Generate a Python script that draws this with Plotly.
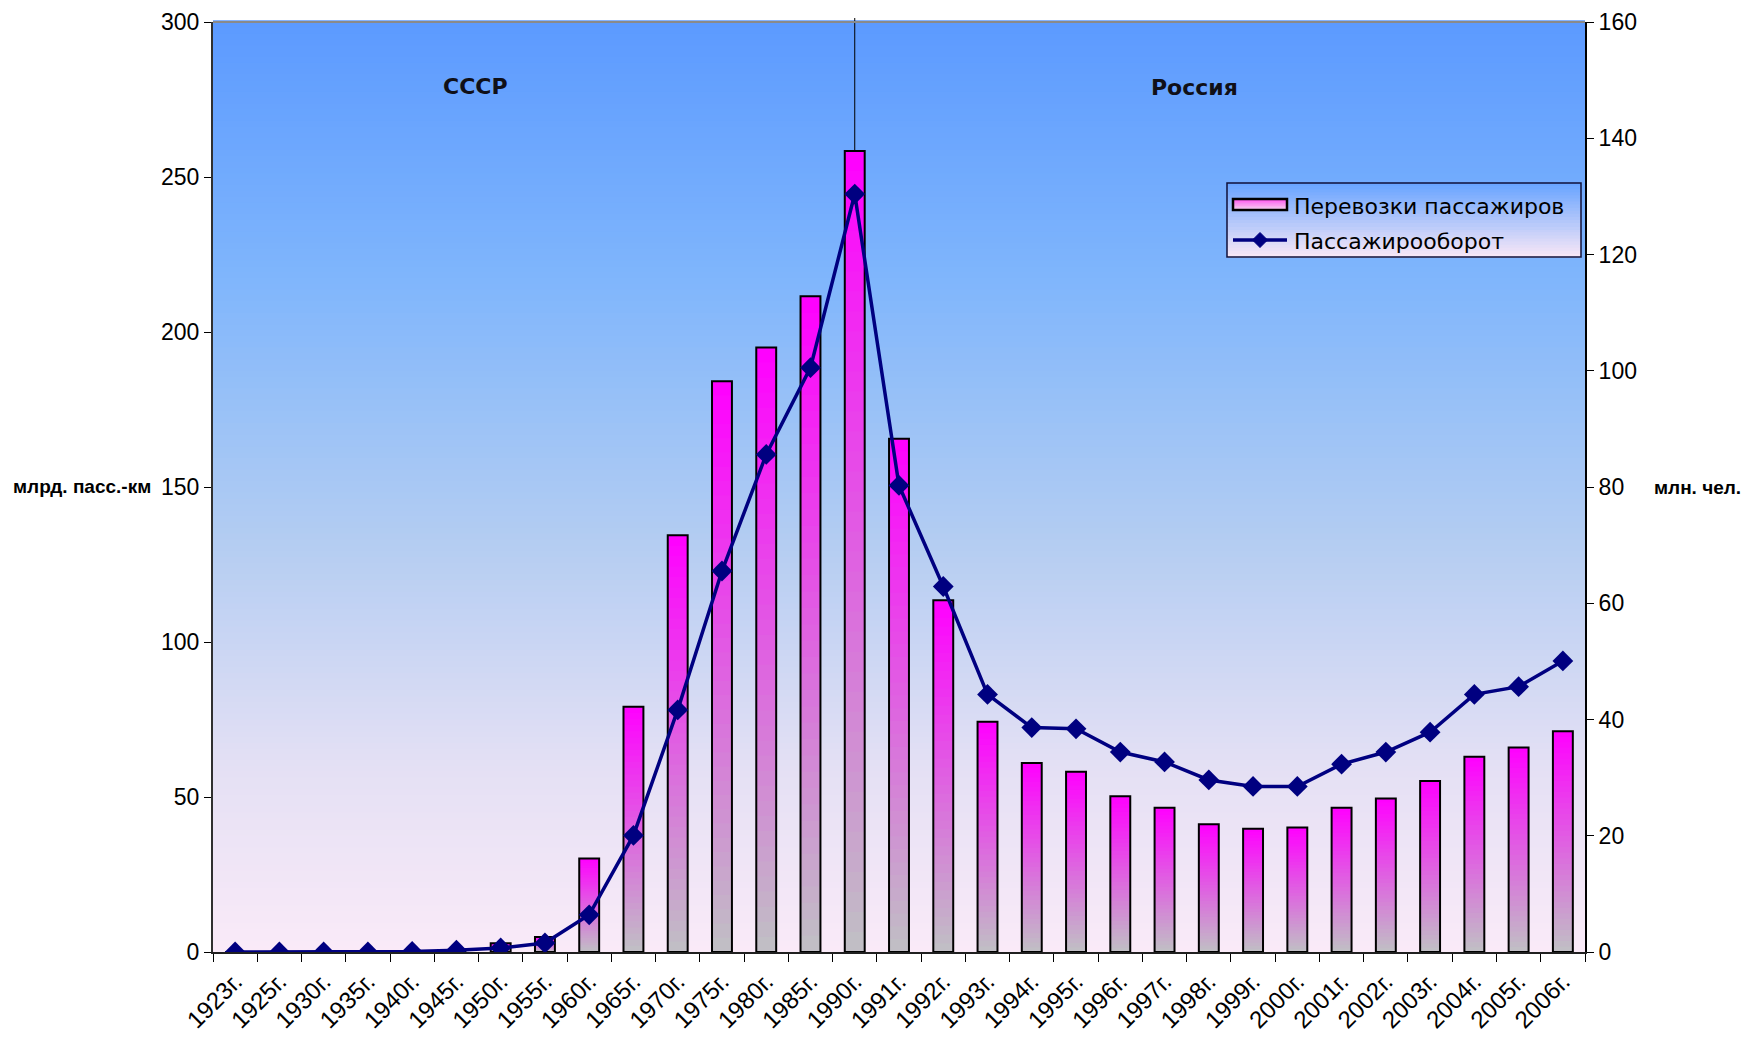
import plotly.graph_objects as go

# --- data -------------------------------------------------------------------
years = ["1923г.", "1925г.", "1930г.", "1935г.", "1940г.", "1945г.", "1950г.",
         "1955г.", "1960г.", "1965г.", "1970г.", "1975г.", "1980г.", "1985г.",
         "1990г.", "1991г.", "1992г.", "1993г.", "1994г.", "1995г.", "1996г.",
         "1997г.", "1998г.", "1999г.", "2000г.", "2001г.", "2002г.", "2003г.",
         "2004г.", "2005г.", "2006г."]

# Перевозки пассажиров, млн. чел. (bars, right scale)
passengers_mln = [0, 0, 0, 0, 0, 0, 1.5, 2.6, 16.1, 42.2, 71.7, 98.2, 104.0,
                  112.8, 137.8, 88.3, 60.5, 39.6, 32.5, 31.0, 26.8, 24.8, 22.0,
                  21.2, 21.4, 24.8, 26.4, 29.4, 33.6, 35.2, 38.0]

# Пассажирооборот, млрд. пасс.-км (line, left scale)
turnover_bn_pkm = [0, 0, 0, 0, 0.2, 0.6, 1.3, 2.9, 12.0, 37.6, 78.1, 122.9,
                   160.5, 188.5, 244.5, 150.5, 117.9, 83.1, 72.4, 72.0, 64.5,
                   61.3, 55.5, 53.4, 53.4, 60.6, 64.5, 70.9, 83.1, 85.6, 93.9]

left_ticks = [0, 50, 100, 150, 200, 250, 300]
right_ticks = [0, 20, 40, 60, 80, 100, 120, 140, 160]

# --- geometry of the page ---------------------------------------------------
W, H = 1742, 1040
PL, PR, PT, PB = 213, 1585, 22, 952          # plot area in pixels


def px(x):
    return (x - PL) / (PR - PL)


def py(y):
    return (PB - y) / (PB - PT)


def mix(c1, c2, t):
    return "rgb(%d,%d,%d)" % tuple(round(a + (b - a) * t) for a, b in zip(c1, c2))


def ramp(stops, t):
    """Piecewise-linear colour ramp; stops are (position, rgb) sorted by position."""
    for (p0, c0), (p1, c1) in zip(stops, stops[1:]):
        if t <= p1:
            return mix(c0, c1, (t - p0) / (p1 - p0))
    return mix(stops[-1][1], stops[-1][1], 0)


# background colour from bottom (0) to top (1)
BG_STOPS = [(0.0, (250, 234, 248)), (0.2, (228, 224, 244)), (0.45, (178, 204, 242)),
            (0.72, (128, 182, 252)), (1.0, (92, 154, 255))]
BAR_TOP = (255, 0, 255)
BAR_BOTTOM = (192, 192, 196)
NAVY = "#000080"

fig = go.Figure()
shapes = []

# plot-area background: vertical blue-to-pink gradient
n_bg = 160
for i in range(n_bg):
    t = (i + 0.5) / n_bg
    shapes.append(dict(type="rect", xref="paper", yref="paper",
                       x0=0, x1=1, y0=i / n_bg, y1=(i + 1) / n_bg + 0.002,
                       fillcolor=ramp(BG_STOPS, t), line=dict(width=0),
                       layer="below"))

# divider between the СССР and Россия periods
shapes.append(dict(type="line", xref="x", yref="paper", x0="1990г.", x1="1990г.",
                   y0=0, y1=1 + 4 / (PB - PT), line=dict(color="#000000", width=1),
                   layer="below"))
# top border of the plot area
shapes.append(dict(type="line", xref="paper", yref="paper", x0=0, x1=1, y0=1, y1=1,
                   line=dict(color="#8a8a8a", width=2), layer="below"))

# --- bars with a vertical gradient (stacked overlays, tallest first) --------
BAR_W = 0.45
N = 40
for k in range(N, 0, -1):
    frac = k / N
    t = (k - 0.5) / N
    fig.add_trace(go.Bar(
        x=years, y=[v * frac for v in passengers_mln], yaxis="y",
        width=BAR_W, marker=dict(color=mix(BAR_BOTTOM, BAR_TOP, t), line=dict(width=0)),
        hoverinfo="skip", showlegend=False))

fig.add_trace(go.Bar(
    x=years, y=passengers_mln, yaxis="y", width=BAR_W,
    name="Перевозки пассажиров",
    marker=dict(color="rgba(0,0,0,0)", line=dict(color="#000000", width=2)),
    showlegend=False))

# --- line -------------------------------------------------------------------
fig.add_trace(go.Scatter(
    x=years, y=turnover_bn_pkm, yaxis="y2", name="Пассажирооборот",
    mode="lines+markers", line=dict(color=NAVY, width=3.5),
    marker=dict(symbol="diamond", size=16, color=NAVY),
    showlegend=False))

# --- hand-drawn legend ------------------------------------------------------
LX0, LX1, LY0, LY1 = 1227, 1581, 183, 257
n_lg = 24
for i in range(n_lg):
    t = i / (n_lg - 1)
    ya = LY0 + (LY1 - LY0) * i / n_lg
    yb = LY0 + (LY1 - LY0) * (i + 1) / n_lg + 0.6
    shapes.append(dict(type="rect", xref="paper", yref="paper",
                       x0=px(LX0), x1=px(LX1), y0=py(yb), y1=py(ya),
                       fillcolor=mix((106, 165, 255), (246, 230, 246), t),
                       line=dict(width=0), layer="above"))
shapes.append(dict(type="rect", xref="paper", yref="paper",
                   x0=px(LX0), x1=px(LX1), y0=py(LY1), y1=py(LY0),
                   line=dict(color="#10103a", width=1.5), layer="above"))

# bar swatch
SX0, SX1, SY0, SY1 = 1233, 1287, 199, 210
n_sw = 8
for i in range(n_sw):
    t = i / (n_sw - 1)
    ya = SY0 + (SY1 - SY0) * i / n_sw
    yb = SY0 + (SY1 - SY0) * (i + 1) / n_sw + 0.5
    shapes.append(dict(type="rect", xref="paper", yref="paper",
                       x0=px(SX0), x1=px(SX1), y0=py(yb), y1=py(ya),
                       fillcolor=mix((255, 90, 240), (246, 208, 240), t),
                       line=dict(width=0), layer="above"))
shapes.append(dict(type="rect", xref="paper", yref="paper",
                   x0=px(SX0), x1=px(SX1), y0=py(SY1), y1=py(SY0),
                   line=dict(color="#000000", width=2.5), layer="above"))

# line swatch with diamond
LY = 240
shapes.append(dict(type="line", xref="paper", yref="paper",
                   x0=px(1233), x1=px(1287), y0=py(LY), y1=py(LY),
                   line=dict(color=NAVY, width=3.5), layer="above"))
cx, d = 1260, 7.5
shapes.append(dict(type="path", xref="paper", yref="paper",
                   path="M %f,%f L %f,%f L %f,%f L %f,%f Z" % (
                       px(cx), py(LY - d), px(cx + d), py(LY),
                       px(cx), py(LY + d), px(cx - d), py(LY)),
                   fillcolor=NAVY, line=dict(color=NAVY, width=1), layer="above"))

annotations = [
    dict(text="Перевозки пассажиров", x=px(1292), y=py(206), xref="paper", yref="paper",
         xanchor="left", yanchor="middle", showarrow=False,
         font=dict(family="DejaVu Sans", size=22, color="#000000")),
    dict(text="Пассажирооборот", x=px(1292), y=py(241), xref="paper", yref="paper",
         xanchor="left", yanchor="middle", showarrow=False,
         font=dict(family="DejaVu Sans", size=22, color="#000000")),
    dict(text="<b>СССР</b>", x=px(475), y=py(86), xref="paper", yref="paper",
         xanchor="center", yanchor="middle", showarrow=False,
         font=dict(family="DejaVu Sans", size=22, color="#101018")),
    dict(text="<b>Россия</b>", x=px(1194), y=py(87), xref="paper", yref="paper",
         xanchor="center", yanchor="middle", showarrow=False,
         font=dict(family="DejaVu Sans", size=22, color="#101018")),
    dict(text="<b>млрд. пасс.-км</b>", x=px(11), y=py(486), xref="paper", yref="paper",
         xanchor="left", yanchor="middle", showarrow=False,
         font=dict(family="Liberation Sans, Arial", size=19, color="#000000")),
    dict(text="<b>млн. чел.</b>", x=px(1652), y=py(487), xref="paper", yref="paper",
         xanchor="left", yanchor="middle", showarrow=False,
         font=dict(family="Liberation Sans, Arial", size=19, color="#000000")),
]

TICK_FONT = dict(family="Liberation Sans, Arial", size=23, color="#000000")

fig.update_layout(
    width=W, height=H,
    margin=dict(l=PL, r=W - PR, t=PT, b=H - PB, pad=0, autoexpand=False),
    paper_bgcolor="#ffffff", plot_bgcolor="rgba(0,0,0,0)",
    barmode="overlay", showlegend=False,
    shapes=shapes, annotations=annotations,
    xaxis=dict(type="category", categoryorder="array", categoryarray=years,
               range=[-0.5, len(years) - 0.5], automargin=False,
               tickson="boundaries", ticks="outside", ticklen=8, tickwidth=1,
               tickcolor="#000000", showline=True, linecolor="#202020", linewidth=2,
               showgrid=False, tickangle=-45, ticklabelstandoff=4,
               tickfont=dict(family="Liberation Sans, Arial", size=24, color="#000000")),
    yaxis=dict(side="right", range=[0, 160], tickvals=right_ticks, automargin=False,
               ticks="outside", ticklen=7, tickwidth=1, tickcolor="#000000",
               showline=True, linecolor="#000000", linewidth=2,
               showgrid=False, zeroline=False, tickfont=TICK_FONT),
    yaxis2=dict(overlaying="y", side="left", range=[0, 300], tickvals=left_ticks,
                automargin=False,
                ticks="outside", ticklen=7, tickwidth=1, tickcolor="#000000",
                showline=True, linecolor="#303030", linewidth=2,
                showgrid=False, zeroline=False, tickfont=TICK_FONT),
)

fig.write_html("out.html")
